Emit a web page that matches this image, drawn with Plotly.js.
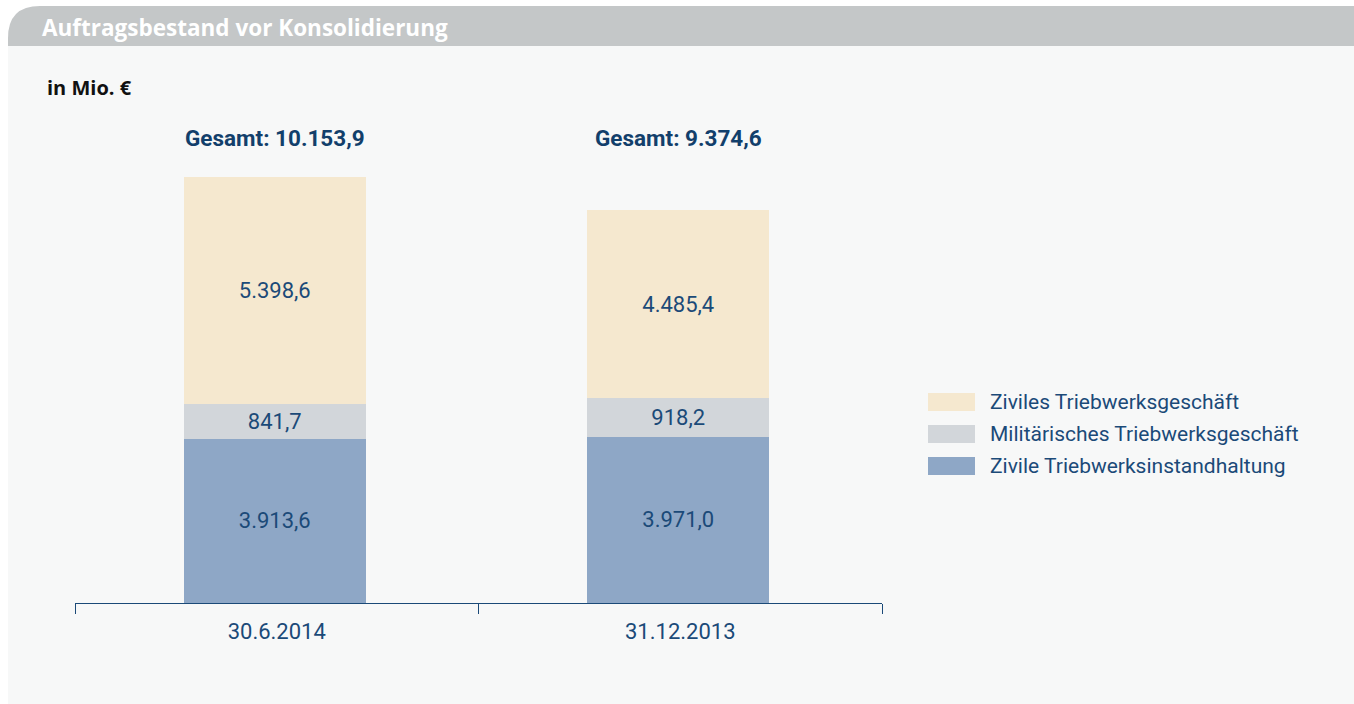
<!DOCTYPE html>
<html><head><meta charset="utf-8">
<script src="https://cdn.plot.ly/plotly-3.0.1.min.js"></script>
<style>html,body{margin:0;padding:0;background:#fff;}#chart{width:1354px;height:704px;}</style>
</head><body><div id="chart"></div>
<script>
const categories = ['30.6.2014', '31.12.2013'];
const seriesNames = ['Zivile Triebwerksinstandhaltung', 'Militärisches Triebwerksgeschäft', 'Ziviles Triebwerksgeschäft'];
const instandhaltung = [3913.6, 3971.0];
const militaer = [841.7, 918.2];
const zivil = [5398.6, 4485.4];
const totals = [10153.9, 9374.6];
const totalLabels = ['Gesamt: 10.153,9', 'Gesamt: 9.374,6'];
const instandhaltungLabels = ['3.913,6', '3.971,0'];
const militaerLabels = ['841,7', '918,2'];
const zivilLabels = ['5.398,6', '4.485,4'];

const colors = ['#8ea7c6', '#d2d6da', '#f5e8cf'];
const navy = '#1b4a78';
const FONT = 'Roboto, "Open Sans", sans-serif';
const FONT2 = '"Open Sans", Roboto, sans-serif';

const W = 1354, H = 704;
const L = 75, R = 882, T = 100, B = 603;
const px = x => (x - L) / (R - L);
const py = y => (B - y) / (B - T);

const seriesVals = [instandhaltung, militaer, zivil];
const seriesLabels = [instandhaltungLabels, militaerLabels, zivilLabels];

const traces = seriesNames.map((name, i) => ({
  type: 'bar', name: name, x: categories, y: seriesVals[i],
  text: seriesLabels[i], textposition: 'inside', insidetextanchor: 'middle',
  textfont: {family: FONT, size: 22, color: navy},
  marker: {color: colors[i], line: {width: 0}},
  width: 0.45, offset: -0.23, hoverinfo: 'skip', showlegend: false, cliponaxis: false
}));

const annotations = categories.map((c, i) => ({
  x: i - 0.005, y: py(138), xref: 'x', yref: 'paper', text: '<b>' + totalLabels[i] + '</b>', yanchor: 'middle',
  showarrow: false, font: {family: FONT, size: 22.5, color: '#123f6b'}
}));
annotations.push({x: px(40), y: py(27), xref: 'paper', yref: 'paper', xanchor: 'left', yanchor: 'middle',
  text: '<b>Auftragsbestand vor Konsolidierung</b>', showarrow: false,
  font: {family: FONT2, size: 22.5, color: '#ffffff'}});
annotations.push({x: px(45), y: py(87), xref: 'paper', yref: 'paper', xanchor: 'left', yanchor: 'middle',
  text: '<b>in Mio. €</b>', showarrow: false, font: {family: FONT2, size: 20, color: '#111111'}});

const shapes = [];
shapes.push({type: 'rect', xref: 'paper', yref: 'paper', x0: px(8), x1: px(W), y0: py(H), y1: py(46),
  fillcolor: '#f7f8f8', line: {width: 0}, layer: 'below'});
const r = 32;
shapes.push({type: 'path', xref: 'paper', yref: 'paper', layer: 'below', fillcolor: '#c4c7c8', line: {width: 0},
  path: `M ${px(8)} ${py(46)} L ${px(8)} ${py(6 + r)} Q ${px(8)} ${py(6)} ${px(8 + r)} ${py(6)} L ${px(W)} ${py(6)} L ${px(W)} ${py(46)} Z`});

const legOrder = [2, 1, 0];
legOrder.forEach((si, k) => {
  const cy = 402 + k * 32;
  shapes.push({type: 'rect', xref: 'paper', yref: 'paper', x0: px(928), x1: px(975), y0: py(cy + 9), y1: py(cy - 9),
    fillcolor: colors[si], line: {width: 0}});
  annotations.push({x: px(988), y: py(cy), xref: 'paper', yref: 'paper', xanchor: 'left', yanchor: 'middle',
    text: seriesNames[si], showarrow: false, font: {family: FONT, size: 21, color: navy}});
});

const layout = {
  width: W, height: H, barmode: 'stack',
  margin: {l: L, r: W - R, t: T, b: H - B, pad: 0},
  paper_bgcolor: '#ffffff', plot_bgcolor: 'rgba(0,0,0,0)',
  showlegend: false,
  xaxis: {type: 'category', range: [-0.5, 1.5], showline: true, linecolor: navy, linewidth: 1,
    ticks: 'outside', tickson: 'boundaries', ticklen: 10, tickcolor: navy, tickwidth: 1,
    ticklabelstandoff: 9,
    showgrid: false, zeroline: false, fixedrange: true,
    tickfont: {family: FONT, size: 22, color: navy}},
  yaxis: {range: [0, 12000], visible: false, fixedrange: true},
  annotations: annotations, shapes: shapes,
  font: {family: FONT}
};
Plotly.newPlot('chart', traces, layout, {displayModeBar: false, staticPlot: true});
</script></body></html>
